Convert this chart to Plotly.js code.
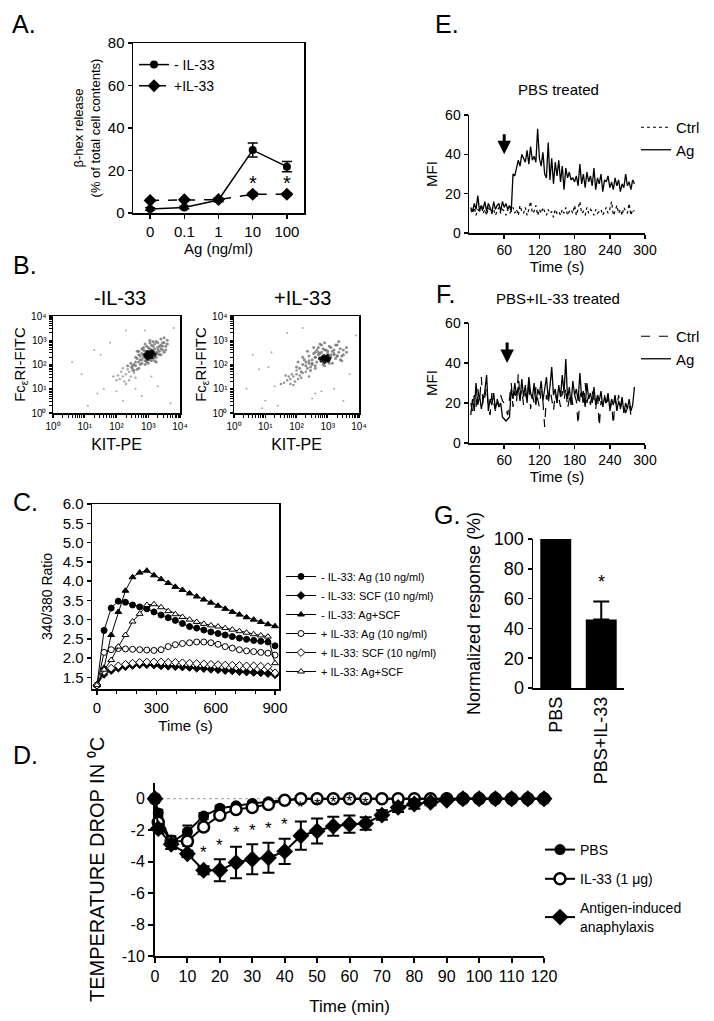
<!DOCTYPE html>
<html><head><meta charset="utf-8">
<script src="https://cdn.plot.ly/plotly-3.0.1.min.js"></script>
<style>html,body{margin:0;padding:0;background:#fff}#chart{width:714px;height:1021px}</style>
</head><body><div id="chart"></div>
<script>
// ---------- Panel A: beta-hex release ----------
const agDoses = ['0', '0.1', '1', '10', '100'];
const releaseNoIL33 = [1.9, 2.6, 6.1, 29.6, 21.8];
const releaseNoIL33Err = [0.6, 0.6, 0.8, 3.3, 2.4];
const releaseIL33 = [5.9, 6.2, 6.3, 8.8, 8.8];
const releaseIL33Err = [0.4, 0.4, 0.5, 0.8, 0.6];
const releaseSigDoses = ['10', '100'];

// ---------- Panel B: flow cytometry (log10 intensities) ----------
const noIL33CoreKit = [3.05,3.0,3.1,2.95,3.15,3.0,3.1,2.9,3.2,3.05,3.05,2.95,3.12,2.98,3.08,2.92,3.02,3.0,3.1,2.97];
const noIL33CoreFc  = [2.4,2.35,2.45,2.3,2.5,2.45,2.35,2.4,2.4,2.5,2.3,2.45,2.55,2.25,2.42,2.36,2.48,2.4,2.3,2.52];
const noIL33BodyKit = [2.8,2.7,2.85,3.3,3.4,3.25,3.35,2.75,2.6,2.9,3.2,3.5,3.45,2.65,2.55,3.3,3.15,2.85,3.55,2.7,3.0,3.6,2.5,3.4,2.95,3.25,3.1,2.9,3.2,2.8,3.0,3.15,2.9,3.35,2.7,3.05,2.75,3.45,3.2,2.6,3.5,2.85,3.3,2.95,3.1,2.65,3.4,3.05,2.8,3.25,
  2.9,3.05,3.25,3.15,2.85,3.0,2.95,3.3,3.1,2.75,3.4,3.2,2.6,3.55,3.0,2.8,3.35,2.5,3.45,2.7,3.15,2.9,3.6,2.45,3.25,2.35,3.05,3.5,2.65,2.55];
const noIL33BodyFc  = [2.2,2.1,2.6,2.7,2.8,2.3,2.55,2.35,1.95,2.0,2.15,2.9,2.6,2.25,2.0,2.9,2.75,2.7,2.75,1.85,2.05,3.0,1.85,2.4,2.75,2.95,2.6,2.55,2.65,2.45,2.2,2.25,2.15,2.4,2.4,2.65,2.0,2.75,2.85,2.1,2.5,2.3,2.6,2.1,2.8,2.55,3.05,2.9,2.65,2.45,
  2.3,2.2,2.5,2.4,2.4,2.55,2.15,2.45,2.15,2.2,2.65,2.3,2.3,2.6,2.7,2.05,2.75,1.95,2.9,2.55,2.95,2.85,2.85,2.05,2.1,1.95,3.0,3.1,1.8,1.75];
const noIL33TailKit = [2.4,2.3,2.45,2.2,2.35,2.1,2.55,2.0,2.25,2.4,2.15,1.9,2.6,2.3,2.5,2.05,2.45,2.2];
const noIL33TailFc  = [1.7,1.6,1.5,1.5,1.8,1.4,1.65,1.35,1.3,1.35,1.7,1.5,1.45,1.2,1.75,1.55,1.9,1.85];
const noIL33SparseKit = [0.9,1.3,2.3,1.6,2.8,3.3,1.1,3.7,2.0,0.6,1.8,3.8,1.4,2.6,3.1,2.9,1.5,2.2];
const noIL33SparseFc  = [1.6,2.6,3.4,1.0,0.7,1.1,0.3,0.4,0.9,2.1,2.9,3.5,0.8,1.0,1.5,3.4,2.4,0.5];

const IL33CoreKit = [2.92,2.85,3.0,2.95,2.8,3.05,2.9,2.88,3.0,2.75,2.97,2.83,2.9,3.02];
const IL33CoreFc  = [2.2,2.25,2.15,2.3,2.15,2.25,2.1,2.35,2.35,2.25,2.22,2.3,2.28,2.18];
const IL33BodyKit = [2.5,2.6,2.4,3.2,3.35,3.4,3.1,2.7,2.3,2.2,2.45,2.6,3.3,3.5,2.8,2.35,2.55,3.15,3.45,2.1,2.65,3.0,2.2,2.05,3.6,2.9,3.25,2.75,3.1,2.5,2.95,3.3,2.4,2.7,3.2,2.85,2.6,3.05,
  2.6,2.7,3.1,3.2,2.5,2.8,3.0,2.4,3.3,2.9,2.3,3.15,2.65,3.4,2.55,2.25,3.5,2.85,3.05,2.15,2.45,2.35,3.6,2.75,3.25,2.0,2.9,3.45,2.6,3.35];
const IL33BodyFc  = [2.2,2.5,2.35,2.6,2.5,2.2,2.7,2.7,2.1,2.0,1.9,1.95,2.8,2.6,2.8,2.55,2.7,2.05,2.35,1.85,2.1,2.55,2.3,2.1,2.5,2.9,2.25,2.45,2.4,2.0,2.6,2.35,2.05,2.5,2.45,2.65,2.3,2.75,
  2.3,2.4,2.3,2.4,2.05,2.5,2.45,2.15,2.35,2.6,1.95,2.55,2.6,2.65,2.45,2.2,2.4,2.0,2.05,1.7,1.75,1.85,2.7,2.85,2.8,1.9,1.95,2.15,1.85,2.95];
const IL33TailKit = [1.9,2.0,1.8,2.1,1.7,1.95,2.2,1.85,1.6,2.05,1.75,2.3,1.5,2.15,1.9,2.4,1.65,2.0,1.8];
const IL33TailFc  = [1.5,1.6,1.4,1.55,1.35,1.3,1.65,1.6,1.25,1.4,1.5,1.7,1.2,1.45,1.15,1.5,1.55,1.75,1.2];
const IL33SparseKit = [0.8,1.2,0.4,1.0,2.5,3.2,3.7,1.4,3.9,0.6,1.3,2.8,1.7,3.5,0.9,2.2,1.1,2.6];
const IL33SparseFc  = [1.8,2.5,1.0,0.5,0.6,1.0,1.6,0.3,3.2,2.4,1.1,0.9,3.3,0.5,0.2,3.5,1.9,0.8];

// ---------- Panel C: 340/380 ratio ----------
const ratioTime = [0,36,72,108,144,180,216,252,288,324,360,396,432,468,504,540,576,612,648,684,720,756,792,828,864,900];
const ratioNoIL33Ag    = [1.3,2.72,3.3,3.48,3.45,3.38,3.33,3.28,3.2,3.12,3.05,2.98,2.9,2.82,2.78,2.73,2.68,2.64,2.6,2.56,2.52,2.49,2.46,2.44,2.42,2.32];
const ratioNoIL33SCF   = [1.3,1.58,1.68,1.74,1.78,1.81,1.83,1.83,1.82,1.8,1.79,1.78,1.77,1.76,1.74,1.73,1.71,1.7,1.68,1.67,1.65,1.64,1.63,1.62,1.6,1.57];
const ratioNoIL33AgSCF = [1.3,1.75,2.6,3.2,3.75,4.1,4.22,4.27,4.15,4.05,3.95,3.85,3.77,3.68,3.6,3.52,3.44,3.36,3.28,3.2,3.13,3.06,3.0,2.94,2.88,2.83];
const ratioIL33Ag      = [1.3,2.15,2.22,2.25,2.24,2.23,2.22,2.21,2.2,2.22,2.3,2.35,2.38,2.4,2.42,2.42,2.4,2.36,2.3,2.26,2.22,2.19,2.17,2.15,2.13,2.08];
const ratioIL33SCF     = [1.3,1.65,1.74,1.8,1.84,1.87,1.89,1.9,1.9,1.9,1.89,1.89,1.88,1.87,1.86,1.85,1.84,1.83,1.82,1.82,1.81,1.8,1.8,1.79,1.78,1.62];
const ratioIL33AgSCF   = [1.3,1.7,1.95,2.3,2.6,2.95,3.15,3.38,3.4,3.32,3.22,3.14,3.07,3.0,2.94,2.89,2.85,2.82,2.78,2.74,2.7,2.66,2.62,2.59,2.56,1.87];
const ratioNames = ['- IL-33: Ag (10 ng/ml)','- IL-33: SCF (10 ng/ml)','- IL-33: Ag+SCF','+ IL-33: Ag (10 ng/ml)','+ IL-33: SCF (10 ng/ml)','+ IL-33: Ag+SCF'];

// ---------- Panel D: temperature drop ----------
const tempTime = [0,1,5,10,15,20,25,30,35,40,45,50,55,60,65,70,75,80,85,90,95,100,105,110,115,120];
const tempPBS     = [0,-0.9,-2.8,-2.1,-1.1,-0.6,-0.45,-0.3,-0.2,-0.1,0,0,0,0,0,0,0,0,0,0,0,0,0,0,0,0];
const tempPBSErr  = [0,0.2,0.4,0.4,0.2,0.15,0.1,0.1,0.1,0.05,0,0,0,0,0,0,0,0,0,0,0,0,0,0,0,0];
const tempIL33    = [0,-1.5,-2.7,-2.7,-1.8,-1.05,-0.68,-0.55,-0.36,-0.1,0,0,0,0,0,0,0,0,0,0,0,0,0,0,0,0];
const tempIL33Err = [0,0.3,0.3,0.3,0.2,0.15,0.1,0.1,0.1,0.05,0,0,0,0,0,0,0,0,0,0,0,0,0,0,0,0];
const tempAna     = [0,-1.9,-2.9,-3.5,-4.55,-4.55,-4.06,-3.85,-3.75,-3.35,-2.35,-2.05,-1.75,-1.62,-1.57,-1.04,-0.55,-0.34,-0.22,-0.1,0,0,0,0,0,0];
const tempAnaErr  = [0,0.3,0.3,0.2,0.25,0.7,1.0,0.95,0.95,0.8,0.9,0.8,0.6,0.55,0.4,0.3,0.3,0.3,0.2,0.1,0,0,0,0,0,0];
const tempSigTimes = [15,20,25,30,35,40,45,50,55,60,65];
const tempYTicks = [0,-2,-4,-6,-8,-10];

// ---------- Panels E/F: MFI traces ----------
const mfiTime = [3,6,9,12,15,18,21,24,27,30,33,36,39,42,45,48,51,54,57,60,63,66,69,72,75,78,81,84,87,90,93,96,99,102,105,108,111,114,117,120,123,126,129,132,135,138,141,144,147,150,153,156,159,162,165,168,171,174,177,180,183,186,189,192,195,198,201,204,207,210,213,216,219,222,225,228,231,234,237,240,243,246,249,252,255,258,261,264,267,270,273,276,279,282];
const mfiPBSAg = [13,11,15,12,19,11,14,12,16,11,15,13,10,16,12,14,15,11,16,13,15,12,14,11,
  30,29,33,37,34,40,38,36,42,35,44,37,39,36,53,
  38,34,41,30,28,46,27,38,25,36,29,37,26,34,22,33,28,31,27,28,26,29,24,35,25,30,23,31,26,29,24,33,22,28,25,30,21,27,26,29,23,26,22,28,24,27,21,25,23,30,24,26,22,27,25];
const mfiPBSCtrl = [12,10,13,9,12,11,14,10,12,9,13,11,10,12,9,11,13,10,12,11,9,12,10,11,13,10,12,9,14,11,10,13,9,12,16,10,11,14,9,12,10,13,11,9,12,10,11,8,12,10,11,9,12,10,13,9,11,12,10,14,9,12,16,10,11,9,13,10,12,11,9,12,10,11,12,9,11,13,10,12,16,9,11,14,10,12,9,13,11,10,15,9,12,11];
const mfiIL33Ag = [14,22,16,30,19,24,17,21,26,34,16,22,19,25,17,21,18,20,13,12,11,12,13,27,22,30,24,28,21,32,23,29,20,33,25,22,30,19,27,24,31,21,26,33,22,28,38,24,27,20,29,23,34,25,42,22,28,19,31,24,27,21,35,23,26,18,30,22,25,20,28,19,24,21,26,18,23,20,25,17,22,19,24,16,21,18,23,15,20,17,22,16,19,28];
const mfiIL33Ctrl = [20,16,24,18,27,21,33,19,23,28,18,14,25,20,16,22,19,24,21,20,17,14,22,30,18,26,20,35,22,27,19,25,21,31,17,24,20,28,22,18,26,21,8,24,19,27,22,16,25,20,23,18,26,21,28,17,22,25,19,24,21,9,23,27,18,30,20,24,19,26,22,17,25,8,21,19,24,18,23,16,20,9,22,18,24,17,21,19,15,18,20,14,17,18];
const antigenAddedAt = [60, 65];

// ---------- Panel G: normalized response ----------
const groups = ['PBS', 'PBS+IL-33'];
const normResponse = [100, 46];
const normResponseErr = [0, 12];

// ================= drawing =================
const W = 714, H = 1021;
const FONT = 'Liberation Sans, Arial, sans-serif';
const xd = (a, b) => [a / W, b / W];
const yd = (top, bottom) => [1 - bottom / H, 1 - top / H];
const pow10 = arr => arr.map(v => Math.pow(10, v));
function axis(extra) {
  return Object.assign({
    showline: true, linecolor: '#000', linewidth: 1.5, ticks: 'outside', ticklen: 4,
    tickwidth: 1.5, tickcolor: '#000', showgrid: false, zeroline: false, automargin: false,
    fixedrange: true, tickfont: {family: FONT, size: 14, color: '#000'}
  }, extra);
}
function ttl(text, size, standoff) { return {text: text, font: {family: FONT, size: size, color: '#000'}, standoff: standoff}; }
const errStyle = (arr, w, th) => ({type: 'data', array: arr, visible: true, color: '#000', thickness: th, width: w});

const traces = [];
// A
traces.push({x: agDoses, y: releaseNoIL33, xaxis: 'x', yaxis: 'y', name: '- IL-33', legend: 'legend',
  mode: 'lines+markers', line: {color: '#000', width: 1.5}, marker: {symbol: 'circle', size: 8, color: '#000'},
  error_y: errStyle(releaseNoIL33Err, 5, 1.5), cliponaxis: false});
traces.push({x: agDoses, y: releaseIL33, xaxis: 'x', yaxis: 'y', name: '+IL-33', legend: 'legend',
  mode: 'lines+markers', line: {color: '#000', width: 1.5, dash: 'dash'}, marker: {symbol: 'diamond', size: 10, color: '#000'},
  error_y: errStyle(releaseIL33Err, 5, 1.5), cliponaxis: false});

// B
function flow(kit, fc, xa, ya, color, size, op) {
  traces.push({x: pow10(kit), y: pow10(fc), xaxis: xa, yaxis: ya, mode: 'markers', showlegend: false,
    marker: {color: color, size: size, opacity: op, line: {width: 0}}, hoverinfo: 'skip'});
}
flow(noIL33SparseKit, noIL33SparseFc, 'x2', 'y2', '#a0a0a0', 2, 0.9);
flow(noIL33TailKit, noIL33TailFc, 'x2', 'y2', '#999', 2.5, 0.8);
flow(noIL33BodyKit, noIL33BodyFc, 'x2', 'y2', '#6a6a6a', 3, 0.75);
flow(noIL33CoreKit, noIL33CoreFc, 'x2', 'y2', '#000', 4, 0.85);
flow(IL33SparseKit, IL33SparseFc, 'x3', 'y3', '#a0a0a0', 2, 0.9);
flow(IL33TailKit, IL33TailFc, 'x3', 'y3', '#777', 2.5, 0.8);
flow(IL33BodyKit, IL33BodyFc, 'x3', 'y3', '#6a6a6a', 3, 0.75);
flow(IL33CoreKit, IL33CoreFc, 'x3', 'y3', '#000', 4, 0.85);

// C
const cSeries = [ratioNoIL33Ag, ratioNoIL33SCF, ratioNoIL33AgSCF, ratioIL33Ag, ratioIL33SCF, ratioIL33AgSCF];
const cSymbols = ['circle', 'diamond', 'triangle-up', 'circle', 'diamond', 'triangle-up'];
const cFill = ['#000', '#000', '#000', '#fff', '#fff', '#fff'];
cSeries.forEach((s, i) => {
  traces.push({x: ratioTime, y: s, xaxis: 'x4', yaxis: 'y4', name: ratioNames[i], legend: 'legend2',
    mode: 'lines+markers', line: {color: '#000', width: 1},
    marker: {symbol: cSymbols[i], size: 6, color: cFill[i], line: {color: '#000', width: 1}}, cliponaxis: false});
});

// D
traces.push({x: tempTime, y: tempPBS, xaxis: 'x5', yaxis: 'y5', name: 'PBS', legend: 'legend3', legendgroup: 'g1',
  mode: 'lines+markers', line: {color: '#000', width: 2}, marker: {symbol: 'circle', size: 11, color: '#000'},
  error_y: errStyle(tempPBSErr, 5, 2), cliponaxis: false});
traces.push({x: tempTime, y: tempIL33, xaxis: 'x5', yaxis: 'y5', name: 'IL-33 (1 \u03bcg)', legend: 'legend3', legendgroup: 'g2',
  mode: 'lines+markers', line: {color: '#000', width: 2}, marker: {symbol: 'circle', size: 11, color: '#fff', line: {color: '#000', width: 2.5}},
  error_y: errStyle(tempIL33Err, 5, 2), cliponaxis: false});
traces.push({x: tempTime, y: tempAna, xaxis: 'x5', yaxis: 'y5', name: 'Antigen-induced<br>anaphylaxis', legend: 'legend3', legendgroup: 'g3',
  mode: 'lines+markers', line: {color: '#000', width: 2}, marker: {symbol: 'diamond', size: 13, color: '#000'},
  error_y: errStyle(tempAnaErr, 6, 2), cliponaxis: false});

// E
traces.push({x: mfiTime, y: mfiPBSCtrl, xaxis: 'x6', yaxis: 'y6', name: 'Ctrl', legend: 'legend4', mode: 'lines',
  line: {color: '#000', width: 1.2, dash: 'dot'}});
traces.push({x: mfiTime, y: mfiPBSAg, xaxis: 'x6', yaxis: 'y6', name: 'Ag', legend: 'legend4', mode: 'lines',
  line: {color: '#000', width: 1.3}});
// F
traces.push({x: mfiTime, y: mfiIL33Ctrl, xaxis: 'x7', yaxis: 'y7', name: 'Ctrl', legend: 'legend5', mode: 'lines',
  line: {color: '#000', width: 1.2, dash: 'dash'}});
traces.push({x: mfiTime, y: mfiIL33Ag, xaxis: 'x7', yaxis: 'y7', name: 'Ag', legend: 'legend5', mode: 'lines',
  line: {color: '#000', width: 1.3}});

// G
traces.push({type: 'bar', x: groups, y: normResponse, xaxis: 'x8', yaxis: 'y8', showlegend: false, width: 0.68,
  marker: {color: '#000', line: {width: 0}},
  error_y: {type: 'data', symmetric: false, array: normResponseErr, arrayminus: [0, 0], visible: true, color: '#000', thickness: 2, width: 8}});

// annotations
const ann = [];
function txt(text, xpx, ypx, size, extra) {
  ann.push(Object.assign({text: text, xref: 'paper', yref: 'paper', x: xpx / W, y: 1 - ypx / H, showarrow: false,
    xanchor: 'center', yanchor: 'middle', font: {family: FONT, size: size, color: '#000'}}, extra || {}));
}
[['A.', 24, 24], ['B.', 25, 265], ['C.', 25, 502], ['D.', 25, 755], ['E.', 447, 24], ['F.', 445, 294], ['G.', 447, 515]]
  .forEach(p => txt(p[0], p[1], p[2], 25));
txt('-IL-33', 120, 298, 20);
txt('+IL-33', 302, 298, 20);
txt('PBS treated', 558, 89, 15);
txt('PBS+IL-33 treated', 558, 298, 15);
// significance stars
releaseSigDoses.forEach(d => {
  const i = agDoses.indexOf(d);
  ann.push({text: '*', xref: 'x', yref: 'y', x: i, y: releaseIL33[i] + releaseIL33Err[i] + 4.5, showarrow: false,
    yanchor: 'middle', font: {family: FONT, size: 20, color: '#000'}});
});
tempSigTimes.forEach(t => {
  const i = tempTime.indexOf(t);
  ann.push({text: '*', xref: 'x5', yref: 'y5', x: t, y: tempAna[i] + tempAnaErr[i] + 0.15, showarrow: false,
    yanchor: 'bottom', font: {family: FONT, size: 17, color: '#000'}});
});
ann.push({text: '*', xref: 'x8', yref: 'y8', x: 1, y: normResponse[1] + normResponseErr[1] + 5, showarrow: false,
  yanchor: 'bottom', font: {family: FONT, size: 18, color: '#000'}});
// antigen arrows
[['x6', 'y6', antigenAddedAt[0]], ['x7', 'y7', antigenAddedAt[1]]].forEach(a => {
  ann.push({text: '', xref: a[0], yref: a[1], x: a[2], y: 40, axref: a[0], ayref: a[1], ax: a[2], ay: 51,
    showarrow: true, arrowhead: 2, arrowsize: 0.9, arrowwidth: 3, arrowcolor: '#000'});
});

const pow10Ticks = [1, 10, 100, 1000, 10000];
const pow10Text = ['10\u2070', '10\u00b9', '10\u00b2', '10\u00b3', '10\u2074'];
function flowAxis(dom, anchor, title) {
  return axis({domain: dom, anchor: anchor, type: 'log', range: [0, 4], tickmode: 'array', tickvals: pow10Ticks,
    ticktext: pow10Text, mirror: true, ticklen: 3, tickwidth: 1.2, tickfont: {family: FONT, size: 10, color: '#000'},
    minor: {ticks: 'outside', ticklen: 3, tickwidth: 1, tickcolor: '#000', dtick: 'D1', showgrid: false},
    title: title});
}
const legStyle = {bgcolor: 'rgba(0,0,0,0)', borderwidth: 0, xanchor: 'left', yanchor: 'top', itemclick: false, itemdoubleclick: false};

const layout = {
  width: W, height: H, margin: {l: 0, r: 0, t: 0, b: 0}, paper_bgcolor: '#fff', plot_bgcolor: 'rgba(0,0,0,0)',
  font: {family: FONT, color: '#000'}, showlegend: true, hovermode: false,
  // A
  xaxis: axis({domain: xd(133, 304), anchor: 'y', type: 'category', range: [-0.5, 4.5], mirror: true,
    tickfont: {family: FONT, size: 15, color: '#000'}, title: ttl('Ag (ng/ml)', 15, 2)}),
  yaxis: axis({domain: yd(43, 213), anchor: 'x', range: [0, 80], tickvals: [0, 20, 40, 60, 80], mirror: true,
    tickfont: {family: FONT, size: 15, color: '#000'},
    title: ttl('\u03b2-hex release<br>(% of total cell contents)', 13, 4)}),
  // B
  xaxis2: flowAxis(xd(53, 180), 'y2', ttl('KIT-PE', 16, 8)),
  yaxis2: flowAxis(yd(316, 413), 'x2', ttl('Fc<sub>\u03b5</sub>RI-FITC', 15, 2)),
  xaxis3: flowAxis(xd(234, 359), 'y3', ttl('KIT-PE', 16, 8)),
  yaxis3: flowAxis(yd(316, 413), 'x3', ttl('Fc<sub>\u03b5</sub>RI-FITC', 15, 2)),
  // C
  xaxis4: axis({domain: xd(92, 279), anchor: 'y4', range: [-25, 920], tickvals: [0, 300, 600, 900], mirror: true,
    tickfont: {family: FONT, size: 15, color: '#000'},
    minor: {ticks: 'outside', ticklen: 3, tickwidth: 1, tickcolor: '#000', tick0: 0, dtick: 100},
    title: ttl('Time (s)', 15, 6)}),
  yaxis4: axis({domain: yd(504, 689), anchor: 'x4', range: [1.2, 6.0], tickvals: [1.5, 2, 2.5, 3, 3.5, 4, 4.5, 5, 5.5, 6],
    ticktext: ['1.5', '2.0', '2.5', '3.0', '3.5', '4.0', '4.5', '5.0', '5.5', '6.0'], mirror: true,
    tickfont: {family: FONT, size: 15, color: '#000'}, title: ttl('340/380 Ratio', 14, 6)}),
  // D
  xaxis5: axis({domain: xd(155, 544), anchor: 'y5', range: [0, 120], tickvals: [0,10,20,30,40,50,60,70,80,90,100,110,120],
    ticklen: 5, tickwidth: 2, linewidth: 2, tickfont: {family: FONT, size: 16, color: '#000'},
    title: ttl('Time (min)', 17, 16)}),
  yaxis5: axis({domain: yd(783, 956), anchor: 'x5', range: [-10, 1], tickvals: tempYTicks,
    ticktext: tempYTicks.map(v => String(v)), ticklen: 5, tickwidth: 2, linewidth: 2,
    tickfont: {family: FONT, size: 16, color: '#000'}, title: ttl('TEMPERATURE DROP IN \u2070C', 20, 12)}),
  // E
  xaxis6: axis({domain: xd(469, 645), anchor: 'y6', range: [0, 300], tickvals: [60, 120, 180, 240, 300],
    title: ttl('Time (s)', 15, 2)}),
  yaxis6: axis({domain: yd(115, 233), anchor: 'x6', range: [0, 60], tickvals: [0, 20, 40, 60],
    title: ttl('MFI', 15, 4)}),
  // F
  xaxis7: axis({domain: xd(469, 645), anchor: 'y7', range: [0, 300], tickvals: [60, 120, 180, 240, 300],
    title: ttl('Time (s)', 15, 2)}),
  yaxis7: axis({domain: yd(323, 443), anchor: 'x7', range: [0, 60], tickvals: [0, 20, 40, 60],
    title: ttl('MFI', 15, 4)}),
  // G
  xaxis8: axis({domain: xd(533, 624), anchor: 'y8', type: 'category', range: [-0.5, 1.5], tickangle: -90, ticks: '',
    tickfont: {family: FONT, size: 18, color: '#000'}}),
  yaxis8: axis({domain: yd(539, 688), anchor: 'x8', range: [0, 100], tickvals: [0, 20, 40, 60, 80, 100],
    tickfont: {family: FONT, size: 18, color: '#000'}, title: ttl('Normalized response (%)', 18, 8)}),
  legend: Object.assign({}, legStyle, {x: 134 / W, y: 1 - 49 / H, font: {family: FONT, size: 14, color: '#000'}}),
  legend2: Object.assign({}, legStyle, {x: 281 / W, y: 1 - 562 / H, font: {family: FONT, size: 11, color: '#000'}}),
  legend3: Object.assign({}, legStyle, {x: 540 / W, y: 1 - 834 / H, tracegroupgap: 8, font: {family: FONT, size: 14, color: '#000'}}),
  legend4: Object.assign({}, legStyle, {x: 636 / W, y: 1 - 111 / H, font: {family: FONT, size: 15, color: '#000'}}),
  legend5: Object.assign({}, legStyle, {x: 636 / W, y: 1 - 320 / H, font: {family: FONT, size: 15, color: '#000'}}),
  annotations: ann,
  shapes: [{type: 'line', xref: 'x5', yref: 'y5', x0: 0, x1: 120, y0: 0, y1: 0, layer: 'below',
    line: {color: '#999', width: 1, dash: 'dot'}}]
};

Plotly.newPlot('chart', traces, layout, {displayModeBar: false, staticPlot: true});
</script>
</body></html>
